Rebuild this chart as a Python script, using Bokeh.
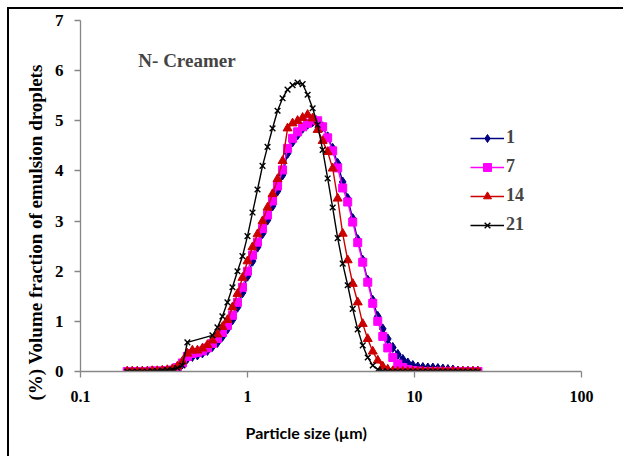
import math
from bokeh.plotting import figure
from bokeh.models import FixedTicker, CustomJSTickFormatter, Label, Range1d, Title
from bokeh.embed import file_html
from bokeh.resources import INLINE

# Particle size bins (µm)
x_um = [0.1905, 0.2042, 0.2188, 0.2344, 0.2512, 0.2692, 0.2884, 0.3090, 0.3311, 0.3548,
        0.3802, 0.4074, 0.4365, 0.4677, 0.5012, 0.5370, 0.5754, 0.6166, 0.6607, 0.7079,
        0.7586, 0.8128, 0.8710, 0.9333, 1.000, 1.0715, 1.1482, 1.2303, 1.3183, 1.4125,
        1.5136, 1.6218, 1.7378, 1.8621, 1.9953, 2.1380, 2.2909, 2.4547, 2.6303, 2.8184,
        3.0200, 3.2359, 3.4674, 3.7154, 3.9811, 4.2658, 4.5709, 4.8978, 5.2481, 5.6234,
        6.0256, 6.4565, 6.9183, 7.4131, 7.9433, 8.5114, 9.1201, 9.7724, 10.471, 11.220,
        12.023, 12.882, 13.804, 14.791, 15.849, 16.982, 18.197, 19.498, 20.893, 22.387,
        23.988]

day_1 = [0, 0, 0, 0, 0, 0.01, 0.01, 0.01, 0.02, 0.03,
         0.07, 0.15, 0.26, 0.30, 0.33, 0.37, 0.42, 0.50, 0.58, 0.70,
         0.85, 1.03, 1.28, 1.57, 1.90, 2.20, 2.48, 2.75, 3.02, 3.30,
         3.60, 3.92, 4.35, 4.58, 4.72, 4.85, 4.93, 4.98, 4.97, 4.88,
         4.68, 4.45, 4.15, 3.78, 3.45, 3.05, 2.63, 2.22, 1.82, 1.42,
         1.10, 0.85, 0.65, 0.48, 0.34, 0.24, 0.17, 0.12, 0.09, 0.08,
         0.07, 0.07, 0.06, 0.05, 0.04, 0.03, 0.01, 0, 0, 0,
         0]

day_7 = [0, 0, 0, 0, 0, 0.01, 0.01, 0.01, 0.02, 0.03,
         0.08, 0.17, 0.30, 0.36, 0.38, 0.41, 0.47, 0.56, 0.66, 0.78,
         0.92, 1.12, 1.38, 1.68, 2.00, 2.32, 2.58, 2.85, 3.12, 3.40,
         3.70, 4.02, 4.45, 4.65, 4.78, 4.88, 4.95, 5.02, 5.00, 4.88,
         4.66, 4.40, 4.06, 3.66, 3.38, 2.98, 2.57, 2.18, 1.78, 1.36,
         1.00, 0.70, 0.47, 0.28, 0.15, 0.08, 0.04, 0.02, 0.01, 0,
         0, 0, 0, 0, 0, 0, 0, 0, 0, 0,
         0]

day_14 = [0, 0, 0, 0, 0, 0.01, 0.01, 0.02, 0.03, 0.05,
          0.10, 0.20, 0.36, 0.42, 0.42, 0.46, 0.53, 0.62, 0.74, 0.89,
          1.03, 1.28, 1.55, 1.87, 2.20, 2.48, 2.74, 3.00, 3.27, 3.54,
          3.84, 4.20, 4.85, 4.95, 5.00, 5.06, 5.12, 5.05, 4.82, 4.60,
          4.38, 4.05, 3.45, 2.75, 2.22, 1.75, 1.38, 0.95, 0.65, 0.40,
          0.22, 0.10, 0.04, 0.01, 0, 0, 0, 0, 0, 0,
          0, 0, 0, 0, 0, 0, 0, 0, 0, 0,
          0]

# Day 21 has no readings in the 0.47-0.58 µm bins
x_um_21 = [x for i, x in enumerate(x_um) if i not in (13, 14, 15, 16)]
day_21 = [0, 0, 0, 0, 0, 0.01, 0.01, 0.02, 0.03, 0.04,
          0.07, 0.12, 0.58,
          0.72, 0.88, 1.10, 1.38, 1.68, 2.00, 2.30, 2.70, 3.17, 3.63,
          4.10, 4.48, 4.85, 5.20, 5.45, 5.62, 5.71, 5.76, 5.73, 5.52,
          5.25, 4.92, 4.42, 3.85, 3.27, 2.66, 2.15, 1.72, 1.25, 0.84,
          0.52, 0.28, 0.12, 0.04, 0.01, 0, 0, 0, 0, 0,
          0, 0, 0, 0, 0, 0, 0, 0, 0, 0,
          0, 0, 0, 0, 0, 0, 0]

x_ticks = [0.1, 1, 10, 100]
y_ticks = [0, 1, 2, 3, 4, 5, 6, 7]

p = figure(width=616, height=449, x_axis_type="log",
           x_range=Range1d(0.1, 100), y_range=Range1d(0, 7),
           output_backend="svg", toolbar_location=None,
           min_border_left=71, min_border_right=44,
           min_border_top=11, min_border_bottom=87)
p.styles = {"margin": "7px 0 0 7px", "border-top": "2px solid black",
            "border-left": "2px solid black"}
p.outline_line_color = None
p.xgrid.grid_line_color = None
p.ygrid.grid_line_color = None
p.background_fill_color = "white"
p.border_fill_color = "white"

axis_gray = "#868686"
for ax in (p.xaxis[0], p.yaxis[0]):
    ax.axis_line_color = axis_gray
    ax.axis_line_width = 1.3
    ax.major_tick_line_color = axis_gray
    ax.major_tick_line_width = 1.3
    ax.minor_tick_line_color = None
    ax.major_tick_in = 0
    ax.major_tick_out = 6
    ax.major_label_text_font = "Liberation Serif"
    ax.major_label_text_font_style = "bold"
    ax.major_label_text_color = "black"

p.xaxis.ticker = FixedTicker(ticks=x_ticks)
p.xaxis.formatter = CustomJSTickFormatter(code="return String(tick)")
p.xaxis.major_label_text_font_size = "16px"
p.xaxis.major_label_standoff = 13

p.yaxis.ticker = FixedTicker(ticks=y_ticks)
p.yaxis.major_label_text_font_size = "17px"
p.yaxis.major_label_standoff = 11

series = [
    (x_um, day_1, "1", "#000080", "diamond", 10),
    (x_um, day_7, "7", "#FF00FF", "square", 8),
    (x_um, day_14, "14", "#CC0000", "triangle", 9),
    (x_um_21, day_21, "21", "black", "x", 8),
]
for xs, ys, lab, col, mk, sz in series:
    p.line(xs, ys, line_color=col, line_width=1.4, legend_label=lab)
    if mk == "x":
        p.scatter(xs, ys, marker="x", size=sz, line_color=col, line_width=1.4,
                  legend_label=lab)
    else:
        p.scatter(xs, ys, marker=mk, size=sz, fill_color=col, line_color=col,
                  legend_label=lab)

leg = p.legend[0]
leg.location = (390, 136)
leg.border_line_color = None
leg.background_fill_alpha = 0
leg.padding = 0
leg.margin = 0
leg.spacing = 8
leg.glyph_width = 34
leg.glyph_height = 20
leg.label_height = 20
leg.label_standoff = 2
leg.label_text_font = "Liberation Serif"
leg.label_text_font_style = "bold"
leg.label_text_font_size = "18px"

p.add_layout(Label(x=0.222, y=6.2, text="N- Creamer", text_font="Liberation Serif",
                   text_font_style="bold", text_font_size="19px",
                   text_baseline="middle", text_align="left"))

xt = Title(text="Particle size (µm)", align="left", offset=165, standoff=33,
           text_font="Lato", text_font_style="bold", text_font_size="16px",
           text_color="black")
p.add_layout(xt, "below")
yt = Title(text="(%) Volume fraction of emulsion droplets", align="left", offset=-29,
           standoff=12, text_font="Liberation Serif", text_font_style="bold",
           text_font_size="19px", text_color="black")
p.add_layout(yt, "left")

open("out.html", "w").write(file_html(p, INLINE))
